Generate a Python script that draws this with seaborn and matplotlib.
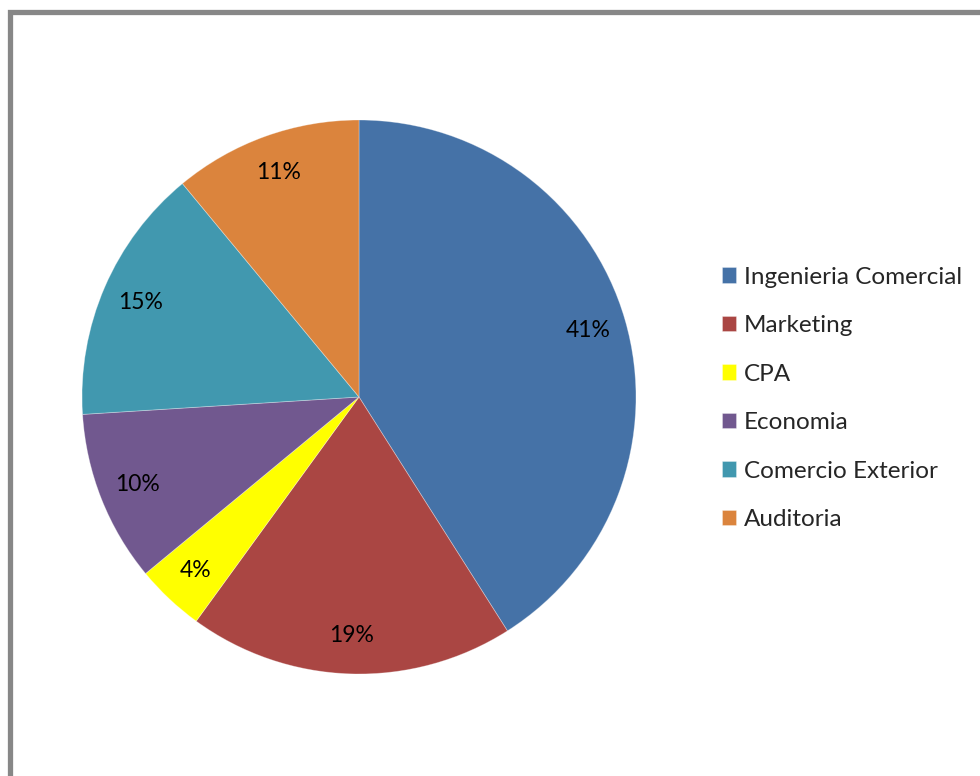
import matplotlib
matplotlib.use("Agg")
import matplotlib.pyplot as plt
from matplotlib.patches import Rectangle
import seaborn as sns

# Distribution by program (percent of respondents)
programs = ["Ingenieria Comercial", "Marketing", "CPA", "Economia",
            "Comercio Exterior", "Auditoria"]
shares = [41, 19, 4, 10, 15, 11]
slice_colors = ["#4572A7", "#AA4643", "#FFFF00", "#71588F", "#4198AF", "#DB843D"]

sns.set_theme(style="white")
plt.rcParams["font.family"] = ["Lato", "DejaVu Sans"]

palette = sns.color_palette(slice_colors)

fig = plt.figure(figsize=(9.8, 7.76), dpi=100)
fig.patch.set_facecolor("white")

# Grey frame around the chart area
fig.patches.append(Rectangle((9.5 / 980, -0.1), 1.2, 1.1 - 12.5 / 776,
                             transform=fig.transFigure, fill=False,
                             edgecolor="#878787", linewidth=3.8, zorder=0))

ax = fig.add_axes([82 / 980, 102 / 776, 554 / 980, 554 / 776])
wedges, texts, autotexts = ax.pie(
    shares, colors=palette, startangle=90, counterclock=False,
    autopct=lambda p: f"{p:.0f}%", pctdistance=0.86, radius=1.0,
    wedgeprops=dict(edgecolor=(1, 1, 1, 0.35), linewidth=0.6),
    textprops=dict(fontsize=16.5, color="black"))
ax.set_xlim(-1, 1)
ax.set_ylim(-1, 1)
ax.set_aspect("equal")
ax.axis("off")

fig.legend(wedges, programs, loc="upper left",
           bbox_to_anchor=(712 / 980, 1 - 257 / 776),
           frameon=False, fontsize=17.5, handlelength=0.6, handleheight=0.6,
           handletextpad=0.3, labelspacing=1.13, borderaxespad=0)

fig.savefig("out.png", dpi=100, facecolor="white")
